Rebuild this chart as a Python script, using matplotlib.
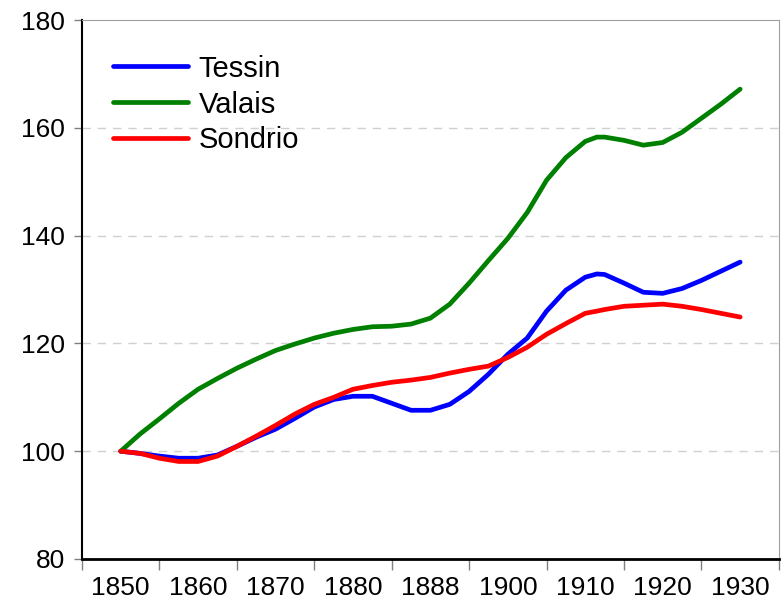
import numpy as np
import matplotlib
matplotlib.use("Agg")
import matplotlib.pyplot as plt

# census years used as x-axis categories
census = [1850, 1860, 1870, 1880, 1888, 1900, 1910, 1920, 1930]

# observation years (quarter steps between censuses)
years = [1850, 1852.5, 1855, 1857.5, 1860, 1862.5, 1865, 1867.5, 1870,
         1872.5, 1875, 1877.5, 1880, 1882, 1884, 1886, 1888, 1891, 1894,
         1897, 1900, 1902.5, 1905, 1907.5, 1910, 1911.5, 1912.5, 1915, 1917.5,
         1920, 1922.5, 1925, 1927.5, 1930]

tessin = [100.0, 99.6, 99.1, 98.7, 98.7, 99.3, 100.9, 102.6, 104.1,
          106.1, 108.2, 109.6, 110.2, 110.2, 108.9, 107.6, 107.6, 108.7,
          111.1, 114.3, 118.0, 121.0, 126.0, 129.9, 132.3, 132.9, 132.8, 131.2,
          129.5, 129.3, 130.2, 131.7, 133.4, 135.1]

valais = [100.0, 103.2, 106.0, 108.9, 111.5, 113.5, 115.4, 117.1, 118.7,
          119.9, 121.0, 121.9, 122.6, 123.1, 123.2, 123.6, 124.7, 127.3,
          131.2, 135.4, 139.5, 144.3, 150.3, 154.5, 157.5, 158.3, 158.3, 157.7,
          156.8, 157.3, 159.2, 161.8, 164.4, 167.2]

sondrio = [100.0, 99.6, 98.7, 98.1, 98.1, 99.1, 100.9, 102.8, 104.8,
           106.9, 108.7, 110.0, 111.5, 112.2, 112.8, 113.2, 113.7, 114.5,
           115.2, 115.8, 117.4, 119.3, 121.7, 123.7, 125.6, 126.0, 126.3, 126.9,
           127.1, 127.3, 126.9, 126.3, 125.6, 124.9]

plt.rcParams['font.family'] = ['Liberation Sans', 'DejaVu Sans']

fig = plt.figure(figsize=(7.83, 6.13), dpi=100)
ax = fig.add_axes([0.1047, 0.0881, 0.890, 0.879])

# map years onto the evenly spaced census categories
idx = np.arange(len(census))
pos = np.interp(years, census, idx)

ax.plot(pos, tessin, color='#0000ff', lw=3.4, label='Tessin', solid_capstyle='round')
ax.plot(pos, valais, color='#008000', lw=3.4, label='Valais', solid_capstyle='round')
ax.plot(pos, sondrio, color='#ff0000', lw=3.4, label='Sondrio', solid_capstyle='round')

ax.set_xlim(-0.5, len(census) - 0.5)
ax.set_ylim(80, 180)

ax.set_xticks(np.arange(len(census) + 1) - 0.5)
ax.set_xticklabels([])
ax.set_xticks(idx, minor=True)
ax.set_xticklabels([str(c) for c in census], minor=True, fontsize=19)
ax.tick_params(axis='x', which='major', direction='out', length=8, width=1, color='#808080')
ax.tick_params(axis='x', which='minor', length=0, pad=12)

ax.set_yticks([80, 100, 120, 140, 160, 180])
ax.tick_params(axis='y', direction='out', length=6, width=1, labelsize=19, pad=6, color='#808080')

for v in [100, 120, 140, 160]:
    ax.axhline(v, color='#d0d0d0', lw=1, ls=(0, (6, 5)), zorder=0)

ax.spines['left'].set_linewidth(1.5)
ax.spines['bottom'].set_linewidth(2)
ax.spines['top'].set_color('#a0a0a0')
ax.spines['right'].set_color('#a0a0a0')
ax.spines['top'].set_linewidth(0.8)
ax.spines['right'].set_linewidth(0.8)

ax.legend(loc='upper left', bbox_to_anchor=(0.044, 0.936), frameon=False,
          fontsize=21, handlelength=2.6, handletextpad=0.35, labelspacing=0.27,
          borderaxespad=0, borderpad=0)

fig.savefig('out.png', dpi=100)
